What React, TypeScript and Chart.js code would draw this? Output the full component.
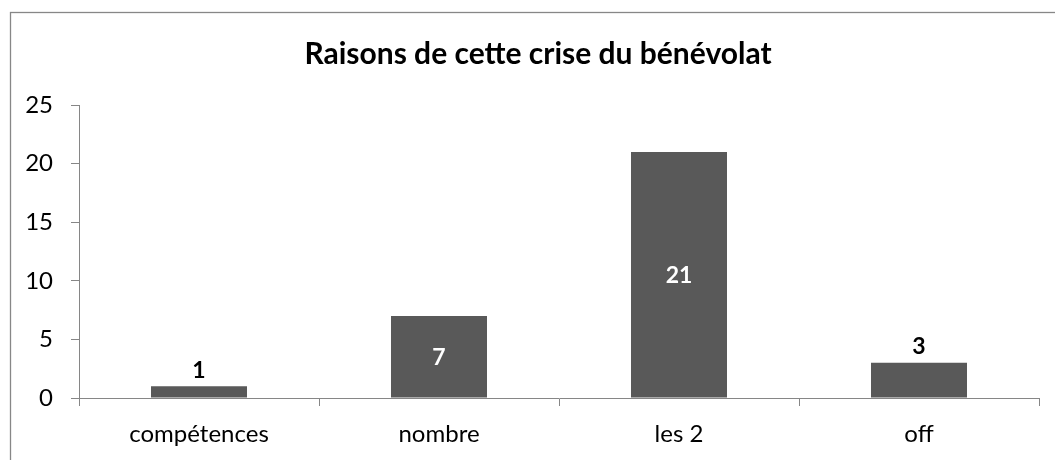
import React, { useEffect, useRef } from "react";
import { Chart, registerables } from "chart.js";

Chart.register(...registerables);

const categories = ["compétences", "nombre", "les 2", "off"];
const values = [1, 7, 21, 3];
const yTicks = [0, 5, 10, 15, 20, 25];
const title = "Raisons de cette crise du bénévolat";

const FONT = "Lato, 'Open Sans', sans-serif";
const AXIS_COLOR = "#868686";
const BAR_COLOR = "#595959";

const frame = {
  id: "frame",
  beforeDraw(chart: any) {
    const { ctx } = chart;
    ctx.save();
    ctx.fillStyle = "#ffffff";
    ctx.fillRect(0, 0, chart.width, chart.height);
    ctx.strokeStyle = "#878787";
    ctx.lineWidth = 1.3;
    ctx.strokeRect(10.5, 12.5, 2000, 2000);
    ctx.restore();
  },
  afterDraw(chart: any) {
    const { ctx } = chart;
    ctx.save();
    ctx.font = `bold 30px ${FONT}`;
    ctx.fillStyle = "#000000";
    ctx.textAlign = "center";
    ctx.textBaseline = "middle";
    ctx.fillText(chart.options.plugins.frame.title, 538, 54);
    ctx.restore();
  },
};

const labels = {
  id: "barLabels",
  afterDatasetsDraw(chart: any) {
    const { ctx } = chart;
    const meta = chart.getDatasetMeta(0);
    ctx.save();
    ctx.font = `bold 23px ${FONT}`;
    ctx.textAlign = "center";
    ctx.textBaseline = "middle";
    meta.data.forEach((bar: any, i: number) => {
      const v = chart.data.datasets[0].data[i];
      const h = bar.base - bar.y;
      if (h > 40) {
        ctx.fillStyle = "#ffffff";
        ctx.fillText(String(v), bar.x, (bar.y + bar.base) / 2 + 1);
      } else {
        ctx.fillStyle = "#000000";
        ctx.fillText(String(v), bar.x, bar.y - 16);
      }
    });
    ctx.restore();
  },
};

export default function App() {
  const ref = useRef<HTMLCanvasElement>(null);
  useEffect(() => {
    if (!ref.current) return;
    const chart = new Chart(ref.current, {
      type: "bar",
      data: {
        labels: categories,
        datasets: [
          {
            data: values,
            backgroundColor: BAR_COLOR,
            barPercentage: 0.4,
            categoryPercentage: 1,
          },
        ],
      },
      options: {
        animation: false,
        responsive: false,
        maintainAspectRatio: false,
        layout: { padding: { left: 0, right: 16, top: 105, bottom: 0 } },
        plugins: {
          legend: { display: false },
          tooltip: { enabled: false },
          title: { display: false },
          frame: { title },
        } as any,
        scales: {
          x: {
            offset: true,
            grid: {
              offset: true,
              drawOnChartArea: false,
              tickLength: 8,
              color: AXIS_COLOR,
            },
            border: { color: AXIS_COLOR },
            ticks: {
              color: "#000000",
              font: { family: FONT, size: 24 },
              padding: 14,
              maxRotation: 0,
            },
            afterFit(scale: any) {
              scale.height = 62;
            },
          },
          y: {
            min: 0,
            max: 25,
            afterBuildTicks(scale: any) {
              scale.ticks = yTicks.map((v) => ({ value: v }));
            },
            grid: {
              drawOnChartArea: false,
              tickLength: 8,
              color: AXIS_COLOR,
            },
            border: { color: AXIS_COLOR },
            ticks: {
              color: "#000000",
              font: { family: FONT, size: 24 },
              padding: 18,
            },
            afterFit(scale: any) {
              scale.width = 79;
            },
          },
        },
      },
      plugins: [frame, labels],
    });
    return () => chart.destroy();
  }, []);
  return (
    <div style={{ position: "absolute", left: 0, top: 0, width: 1055, height: 460 }}>
      <canvas ref={ref} width={1055} height={460} style={{ display: "block" }} />
    </div>
  );
}
